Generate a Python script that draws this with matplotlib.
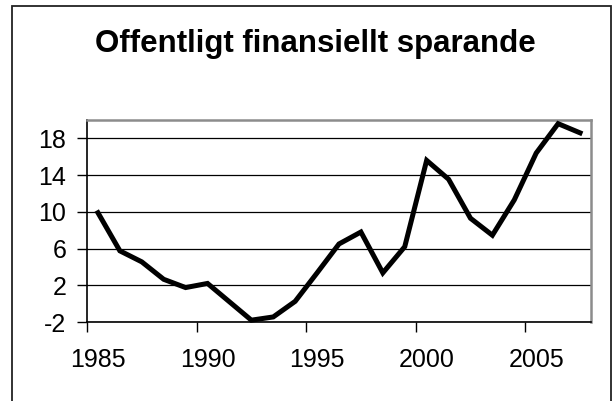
import numpy as np
import matplotlib
matplotlib.use("Agg")
import matplotlib.pyplot as plt
from matplotlib.patches import Rectangle

# data (one value per year)
years = list(range(1985, 2008))
sparande = [9.9, 5.75, 4.55, 2.65, 1.75, 2.2, 0.2, -1.8, -1.45, 0.25,
            3.35, 6.5, 7.8, 3.35, 6.2, 15.6, 13.55, 9.3, 7.45, 11.3,
            16.4, 19.6, 18.6]
y_ticks = [-2, 2, 6, 10, 14, 18]
x_labels = [1985, 1990, 1995, 2000, 2005]
title = "Offentligt finansiellt sparande"

plt.rcParams['font.family'] = ['Liberation Sans', 'DejaVu Sans']

W, H = 614, 401
fig = plt.figure(figsize=(W / 100, H / 100), dpi=100)
ax = fig.add_axes([87 / W, 1 - 322 / H, (591 - 87) / W, (322 - 120) / H])

# category style axis: values sit in the middle of each year
x = np.array(years) + 0.5
ax.plot(x, sparande, color='black', lw=3.6, solid_joinstyle='miter', clip_on=False, zorder=3)

ax.set_xlim(1985, 2008)
ax.set_ylim(-2, 20)

ax.set_yticks(y_ticks)
ax.set_yticklabels([str(v) for v in y_ticks], fontsize=18)
ax.yaxis.grid(True, color='black', lw=0.9)
ax.set_axisbelow(True)

# tick marks at the year boundaries, labels centred on the years
ax.set_xticks(x_labels)
ax.set_xticklabels([])
ax.set_xticks([v + 0.5 for v in x_labels], minor=True)
ax.set_xticklabels([str(v) for v in x_labels], minor=True, fontsize=18)
ax.tick_params(axis='x', which='major', length=7, width=1, color='black', direction='out')
ax.tick_params(axis='x', which='minor', length=0, pad=19)
ax.tick_params(axis='y', length=7, width=1, direction='out', pad=8)

for side in ['top', 'right']:
    ax.spines[side].set_color('#8c8c8c')
    ax.spines[side].set_linewidth(1.8)
for side in ['left', 'bottom']:
    ax.spines[side].set_color('black')
    ax.spines[side].set_linewidth(1.2)

fig.text(315 / W, 1 - 44 / H, title, ha='center', va='center',
         fontsize=22.5, fontweight='bold')

# outer chart frame
fig.patches.append(Rectangle((12 / W, -0.1), (611 - 12) / W, 1.1 - 6 / H,
                             transform=fig.transFigure, fill=False,
                             edgecolor='#222222', lw=1.3))

fig.savefig('out.png', dpi=100)
